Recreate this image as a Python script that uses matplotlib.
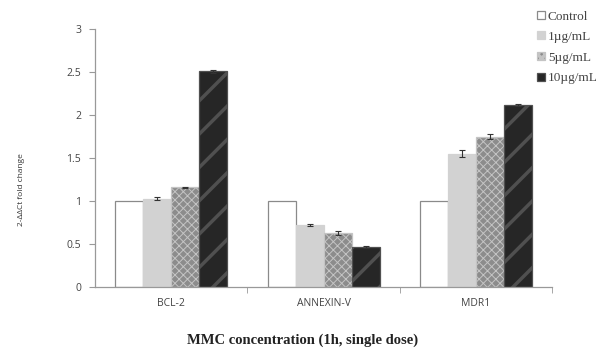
import numpy as np
import matplotlib.pyplot as plt

genes = ["BCL-2", "ANNEXIN-V", "MDR1"]
dosis = ["Control", "1\u00b5g/mL", "5\u00b5g/mL", "10\u00b5g/mL"]

# fold change por gen (filas = dosis)
control = [1.00, 1.00, 1.00]
dosis_1 = [1.03, 0.72, 1.55]
dosis_5 = [1.16, 0.63, 1.75]
dosis_10 = [2.51, 0.47, 2.12]

# el control no lleva barra de error
err_1 = [0.02, 0.01, 0.04]
err_5 = [0.01, 0.02, 0.03]
err_10 = [0.02, 0.01, 0.01]

valores = [control, dosis_1, dosis_5, dosis_10]
errores = [None, err_1, err_5, err_10]

# estilos de cada serie
colores = ["white", "#d2d2d2", "#8c8c8c", "#262626"]
bordes = ["#8a8a8a", "#d2d2d2", "#c4c4c4", "#505050"]
tramas = [None, None, "xxxx", "/"]
grosor_trama = [1.0, 1.0, 0.7, 2.5]

fig = plt.figure(figsize=(6.06, 3.51), dpi=100)
ax = fig.add_axes([0.157, 0.182, 0.754, 0.735])

x = np.arange(len(genes))
ancho = 0.184
for i in range(4):
    pos = x + (i - 1.5) * ancho
    plt.rcParams['hatch.linewidth'] = grosor_trama[i]
    ax.bar(pos, valores[i], ancho, color=colores[i], edgecolor=bordes[i],
           hatch=tramas[i], linewidth=0.9, label=dosis[i], zorder=2)
    if errores[i] is not None:
        ax.errorbar(pos, valores[i], yerr=errores[i], fmt="none", ecolor="#333333",
                    elinewidth=0.8, capsize=2, capthick=0.8, zorder=3)

ax.set_xlim(-0.5, 2.5)
ax.set_ylim(0, 3)
ax.set_yticks([0, 0.5, 1, 1.5, 2, 2.5, 3])
ax.set_yticklabels(["0", "0.5", "1", "1.5", "2", "2.5", "3"])
ax.set_xticks(x)
ax.set_xticklabels(genes)
ax.set_xticks([0.5, 1.5, 2.5], minor=True)
ax.tick_params(axis="x", which="major", length=0, pad=8)
ax.tick_params(axis="x", which="minor", length=4, color="#999999")
ax.tick_params(axis="y", length=4, color="#999999", pad=6)
for lab in ax.get_xticklabels() + ax.get_yticklabels():
    lab.set_fontfamily("Open Sans")
    lab.set_fontsize(7.5)
    lab.set_color("#444444")

for s in ["top", "right"]:
    ax.spines[s].set_visible(False)
for s in ["left", "bottom"]:
    ax.spines[s].set_color("#999999")
    ax.spines[s].set_linewidth(0.9)

fig.text(0.036, 1 - 190 / 351, "2-\u0394\u0394Ct fold change", rotation=90,
         ha="center", va="center", fontsize=6, family="Open Sans", color="#333333")
fig.text(0.5, 1 - 340 / 351, "MMC concentration (1h, single dose)",
         ha="center", va="center", fontsize=10.5, fontweight="bold",
         family="Liberation Serif", color="#222222")

leg = fig.legend(loc="upper left", bbox_to_anchor=(0.878, 0.985), frameon=False,
                 prop={"family": "Liberation Serif", "size": 9.5},
                 handlelength=0.55, handleheight=0.55, handletextpad=0.25,
                 labelspacing=0.65, borderaxespad=0)
for t in leg.get_texts():
    t.set_color("#444444")

fig.savefig("out.png", dpi=100)
